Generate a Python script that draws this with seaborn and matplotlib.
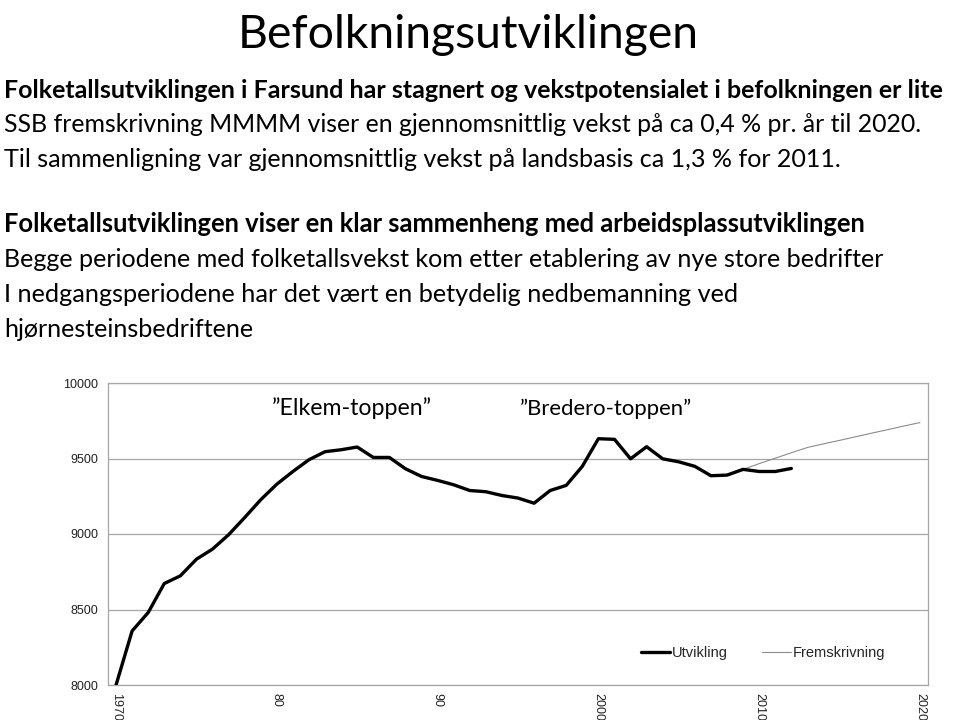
import matplotlib
matplotlib.use("Agg")
import matplotlib.pyplot as plt
import seaborn as sns
import pandas as pd
import numpy as np
from matplotlib.ticker import FixedLocator, FixedFormatter

# ---------------- data ----------------
years_actual = list(range(1970, 2013))
pop_actual = [8000, 8358, 8480, 8672, 8723, 8833, 8900, 8995, 9109, 9227,
              9330, 9414, 9492, 9545, 9558, 9576, 9507, 9507, 9432, 9381,
              9355, 9326, 9288, 9280, 9255, 9238, 9204, 9288, 9322, 9448,
              9631, 9627, 9498, 9578, 9498, 9478, 9448, 9386, 9390, 9428,
              9414, 9414, 9434]
years_proj = list(range(2009, 2021))
pop_proj = [9428, 9466, 9502, 9538, 9573, 9597, 9620, 9644, 9668, 9691, 9715, 9738]

tick_years = [1970, 1980, 1990, 2000, 2010, 2020]
tick_labels = ["1970", "80", "90", "2000", "2010", "2020"]
y_ticks = [8000, 8500, 9000, 9500, 10000]

series_names = ["Utvikling", "Fremskrivning"]
title = "Befolkningsutviklingen"
text_lines = [
    ("Folketallsutviklingen i Farsund har stagnert og vekstpotensialet i befolkningen er lite", True),
    ("SSB fremskrivning MMMM viser en gjennomsnittlig vekst på ca 0,4 % pr. år til 2020.", False),
    ("Til sammenligning var gjennomsnittlig vekst på landsbasis ca 1,3 % for 2011.", False),
    ("Folketallsutviklingen viser en klar sammenheng med arbeidsplassutviklingen", True),
    ("Begge periodene med folketallsvekst kom etter etablering av nye store bedrifter", False),
    ("I nedgangsperiodene har det vært en betydelig nedbemanning ved", False),
    ("hjørnesteinsbedriftene", False),
]
annotations = ["”Elkem-toppen”", "”Bredero-toppen”"]

df_actual = pd.DataFrame({"year": years_actual, "value": pop_actual})
df_proj = pd.DataFrame({"year": years_proj, "value": pop_proj})

# ---------------- style ----------------
sns.set_style("white")
plt.rcParams["font.family"] = ["Liberation Sans", "DejaVu Sans"]

W, H = 960, 720
fig = plt.figure(figsize=(9.6, 7.2), dpi=100)
renderer = fig.canvas.get_renderer()

def fit_text(x_px, base_px, s, width_px, size0=16, ha="left", **kw):
    t = fig.text(x_px / W, 1 - base_px / H, s, fontsize=size0, va="baseline",
                 ha=ha, **kw)
    w = t.get_window_extent(renderer).width
    t.set_fontsize(size0 * width_px / w)
    return t

CAL = ["Lato", "DejaVu Sans"]

# title
fit_text(468, 48, title, 463, size0=34, ha="center", family=CAL, color="black")

# body text
bases = [98, 132, 167, 232, 267, 302, 337]
widths = [943, 925, 842, 866, 884, 740, 251]
for (s, bold), b, w in zip(text_lines, bases, widths):
    fit_text(4, b, s, w, size0=16, family=CAL,
             fontweight="bold" if bold else "normal", color="black")

# ---------------- chart ----------------
ax = fig.add_axes([108 / W, 1 - 685 / H, 820 / W, 302 / H])
grid_c = "#a6a6a6"

sns.lineplot(data=df_proj, x="year", y="value", ax=ax, color="#8c8c8c",
             linewidth=0.8, label=series_names[1], zorder=3)
sns.lineplot(data=df_actual, x="year", y="value", ax=ax, color="black",
             linewidth=2.4, label=series_names[0], zorder=4)

ax.set_xlim(1969.5, 2020.5)
ax.set_ylim(8000, 10000)
ax.set_xlabel("")
ax.set_ylabel("")

ax.yaxis.set_major_locator(FixedLocator(y_ticks))
ax.set_yticklabels([str(v) for v in y_ticks])
ax.grid(axis="y", color=grid_c, linewidth=0.9)
ax.set_axisbelow(True)

ax.xaxis.set_major_locator(FixedLocator(tick_years))
ax.xaxis.set_major_formatter(FixedFormatter(tick_labels))
ax.xaxis.set_minor_locator(FixedLocator(np.arange(1969.5, 2021, 1.0)))
ax.tick_params(axis="x", which="major", length=0, pad=6, labelsize=9,
               labelrotation=270, labelcolor="#222222")
ax.tick_params(axis="x", which="minor", length=4, width=0.8, color=grid_c,
               direction="out")
ax.tick_params(axis="y", which="major", length=4, width=0.8, color=grid_c,
               direction="out", labelsize=9, labelcolor="#222222", pad=3)
for lab in ax.get_xticklabels():
    lab.set_va("top")
    lab.set_ha("center")

for side in ["left", "bottom", "right", "top"]:
    ax.spines[side].set_visible(True)
    ax.spines[side].set_color(grid_c)
    ax.spines[side].set_linewidth(0.9)

handles, labels = ax.get_legend_handles_labels()
order = [labels.index(n) for n in series_names]
ax.legend([handles[i] for i in order], [labels[i] for i in order],
          loc="center left", bbox_to_anchor=(641 / W, 1 - 653 / H),
          bbox_transform=fig.transFigure, ncol=2, frameon=False,
          fontsize=10.5, handlelength=2.0, handletextpad=0.15,
          columnspacing=2.3, borderpad=0, borderaxespad=0)

# annotations above the peaks
fit_text(272, 415, annotations[0], 160, size0=16, family=CAL, color="black")
fit_text(520, 415, annotations[1], 173, size0=16, family=CAL, color="black")

fig.savefig("out.png", dpi=100, facecolor="white")
